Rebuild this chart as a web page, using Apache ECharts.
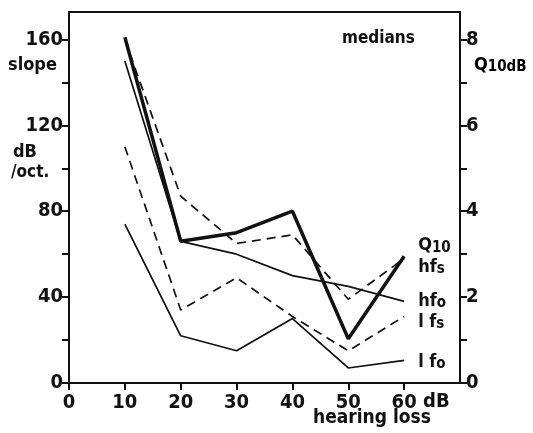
<!DOCTYPE html>
<html>
<head>
<meta charset="utf-8">
<title>medians</title>
<script src="https://cdn.jsdelivr.net/npm/echarts@6/dist/echarts.min.js"></script>
</head>
<body style="margin:0;background:#fff">
<div id="main" style="width:533px;height:433px;"></div>
<script>
// hearing loss (dB) on the x axis
const hearingLoss = [10, 20, 30, 40, 50, 60];
// Q10dB, read on the right axis
const q10 = [8.05, 3.3, 3.5, 4.0, 1.03, 2.95];
// slopes in dB/oct, left axis
const hfS = [160, 87, 65, 69, 39, 58];
const hfO = [150, 66, 60, 50, 45, 38];
const lfS = [110, 34, 49, 31, 15, 31];
const lfO = [74, 22, 15, 30, 7, 10.5];

const xTicks = [0, 10, 20, 30, 40, 50, 60];
const leftTicks = [0, 20, 40, 60, 80, 100, 120, 140, 160];
const leftLabels = [0, 40, 80, 120, 160];
const rightTicks = [0, 1, 2, 3, 4, 5, 6, 7, 8];
const rightLabels = [0, 2, 4, 6, 8];

const font = 'DejaVu Sans Condensed';
const ink = '#111';

function pts(vals) {
    return hearingLoss.map((x, i) => [x, vals[i]]);
}
const subRich = {
    n: { fontFamily: font, fontSize: 18, fontWeight: 'bold', color: ink, verticalAlign: 'top', lineHeight: 19 },
    s: { fontFamily: font, fontSize: 15, fontWeight: 'bold', color: ink, verticalAlign: 'bottom', lineHeight: 15, padding: [8, 0, 0, 0] }
};
function endLab(txt, dy) {
    return {
        show: true,
        formatter: txt,
        offset: [6, dy],
        rich: subRich
    };
}

let myChart = echarts.init(document.getElementById('main'));
let option = {
    animation: false,
    backgroundColor: '#fff',
    grid: { left: 69, right: 73, top: 12, bottom: 50, show: true, borderColor: ink, borderWidth: 2 },
    xAxis: {
        type: 'value', min: 0, max: 70,
        splitLine: { show: false },
        axisLine: { lineStyle: { color: ink, width: 2 } },
        axisTick: { show: true, length: 7, lineStyle: { color: ink, width: 2 }, customValues: xTicks },
        axisLabel: {
            customValues: xTicks, margin: 10, color: ink,
            fontFamily: font, fontSize: 20, fontWeight: 'bold'
        }
    },
    yAxis: [{
        type: 'value', min: 0, max: 172.8,
        splitLine: { show: false },
        axisLine: { show: true, lineStyle: { color: ink, width: 2 } },
        axisTick: { show: true, length: 7, lineStyle: { color: ink, width: 2 }, customValues: leftTicks },
        axisLabel: {
            customValues: leftLabels, margin: 6, color: ink,
            fontFamily: font, fontSize: 20, fontWeight: 'bold'
        }
    }, {
        type: 'value', min: 0, max: 8.64, position: 'right',
        splitLine: { show: false },
        axisLine: { show: true, lineStyle: { color: ink, width: 2 } },
        axisTick: { show: true, length: 7, lineStyle: { color: ink, width: 2 }, customValues: rightTicks },
        axisLabel: {
            customValues: rightLabels, margin: 6, color: ink,
            fontFamily: font, fontSize: 20, fontWeight: 'bold'
        }
    }],
    graphic: [
        { type: 'text', left: 342, top: 30, style: { text: 'medians', font: 'bold 17px "DejaVu Sans Condensed"', fill: ink } },
        { type: 'text', left: 8, top: 56, style: { text: 'slope', font: 'bold 18px "DejaVu Sans Condensed"', fill: ink } },
        { type: 'text', left: 13, top: 143, style: { text: 'dB', font: 'bold 18px "DejaVu Sans Condensed"', fill: ink } },
        { type: 'text', left: 11, top: 164, style: { text: '/oct.', font: 'bold 17px "DejaVu Sans Condensed"', fill: ink } },
        { type: 'text', left: 474, top: 52, style: { text: '{n|Q}{s|10dB}', rich: subRich } },
        { type: 'text', left: 423, top: 392, style: { text: 'dB', font: 'bold 20px "DejaVu Sans Condensed"', fill: ink } },
        { type: 'text', left: 313, top: 409, style: { text: 'hearing loss', font: 'bold 19px "DejaVu Sans Condensed"', fill: ink } }
    ],
    series: [
        {
            name: 'Q10', type: 'line', yAxisIndex: 1, data: pts(q10), symbol: 'none',
            lineStyle: { color: ink, width: 3.5 },
            endLabel: endLab('{n|Q}{s|10}', -10)
        },
        {
            name: 'hfs', type: 'line', data: pts(hfS), symbol: 'none',
            lineStyle: { color: ink, width: 1.7, type: [9, 6] },
            endLabel: endLab('{n|hf}{s|s}', 9)
        },
        {
            name: 'hfo', type: 'line', data: pts(hfO), symbol: 'none',
            lineStyle: { color: ink, width: 1.7 },
            endLabel: endLab('{n|hf}{s|o}', 0)
        },
        {
            name: 'lfs', type: 'line', data: pts(lfS), symbol: 'none',
            lineStyle: { color: ink, width: 1.7, type: [9, 6] },
            endLabel: endLab('{n|l f}{s|s}', 6)
        },
        {
            name: 'lfo', type: 'line', data: pts(lfO), symbol: 'none',
            lineStyle: { color: ink, width: 1.7 },
            endLabel: endLab('{n|l f}{s|o}', 2)
        }
    ]
};
myChart.setOption(option);
</script>
</body>
</html>
